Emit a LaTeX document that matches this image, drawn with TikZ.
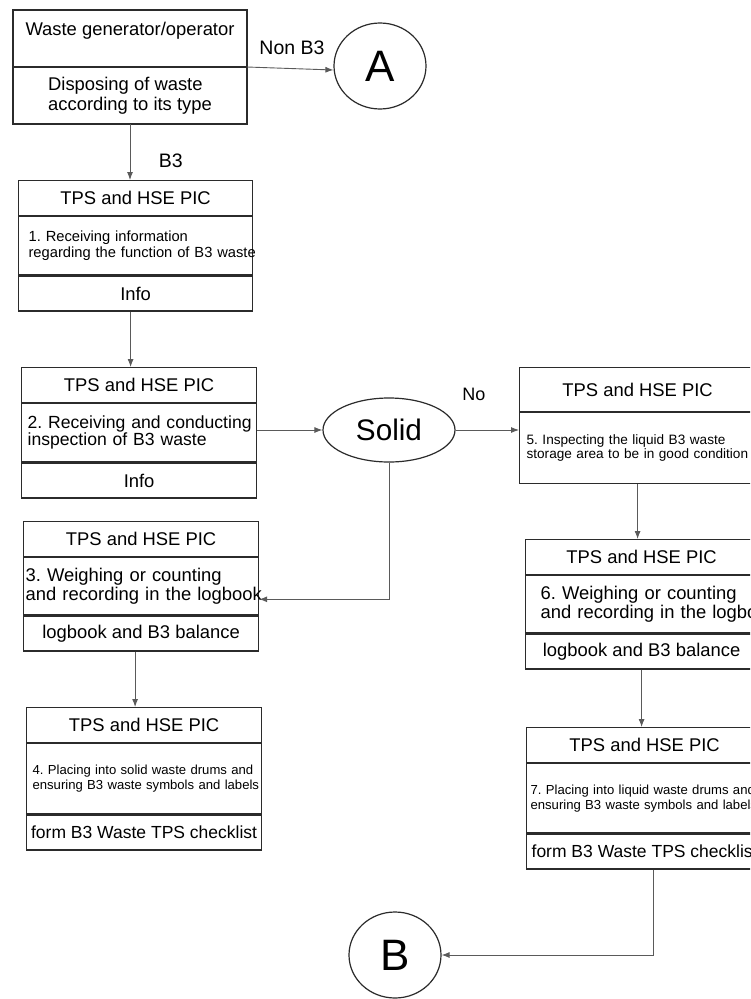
\documentclass[tikz,border=0pt]{standalone}
\usepackage{fontspec}
\setmainfont{Liberation Sans}
\frenchspacing
\usetikzlibrary{arrows, arrows.meta, positioning, shapes.geometric}
\definecolor{boxgray}{HTML}{2B2B2B}
\definecolor{linegray}{HTML}{5A5A5A}

\begin{document}
\begin{tikzpicture}[x=1pt, y=-1pt, >=latex']
 % We define the styles for the boxes, the connectors and the labels
 \tikzset{
block/.style = {draw=boxgray, line width=1.2pt, rectangle, inner xsep=3pt, inner ysep=0pt, minimum height=35pt, font=\fontsize{18.4}{20.5}\selectfont},
detail/.style = {block, align=left},
terminal/.style = {draw=boxgray, line width=1.2pt, ellipse, inner sep=0pt, minimum width=92pt, minimum height=86pt, font=\fontsize{44}{48}\selectfont},
line/.style = {draw=linegray, line width=0.9pt, -{Latex[length=8pt, width=6pt]}},
tag/.style = {font=\fontsize{19.5}{22}\selectfont},
}

 \useasboundingbox (0,0) rectangle (750,999);
 \fill [white] (0,0) rectangle (750,999);
 \clip (0,0) rectangle (750,999);

 % Waste generator block
 \node [block, anchor=north west, outer sep=0pt, minimum width=234pt, minimum height=57pt, text height=13pt, text depth=20pt] (gen) at (13,10) {Waste generator/operator};
 \node [detail, below=0pt of gen, outer sep=0pt, minimum width=234pt, minimum height=57pt] (dispose) {Disposing of waste\\according to its type};

 % Connector A for non B3 waste
 \node [terminal] (conA) at (380,66) {A};
 \node [tag] (nonB3) at (292,48) {Non B3};
 \draw [line] (gen.south east) -- ([yshift=-4pt]conA.west);

 % Step 1
 \node [block, anchor=north west, minimum width=234pt] (head1) at (18,180) {TPS and HSE PIC};
 \node [detail, below=0pt of head1, minimum width=234pt, minimum height=58pt, inner xsep=10pt, text width=214pt, font=\fontsize{14.7}{15.7}\selectfont] (body1) {\mbox{1. Receiving information}\\\mbox{regarding the function of B3 waste}};
 \node [block, below=0pt of body1, minimum width=234pt] (foot1) {Info};
 \draw [line] (dispose.south) -- (dispose.south |- head1.north) node [tag, pos=0.65, right=25pt] (b3) {B3};

 % Step 2
 \node [block, anchor=north west, minimum width=235pt] (head2) at (21,367) {TPS and HSE PIC};
 \node [detail, below=0pt of head2, minimum width=235pt, minimum height=58pt, inner xsep=6pt, text width=223pt, font=\fontsize{17.6}{17}\selectfont] (body2) {\mbox{2. Receiving and conducting}\\\mbox{inspection of B3 waste}};
 \node [block, below=0pt of body2, minimum width=235pt] (foot2) {Info};
 \draw [line] ([xshift=-5pt]foot1.south) -- ([xshift=-5pt]foot1.south |- head2.north);

 % Solid or liquid
 \node [draw=boxgray, ellipse, line width=1.2pt, inner sep=0pt, minimum width=132pt, minimum height=64pt, font=\fontsize{29.7}{32}\selectfont] (solid) at (389,430) {Solid};
 \draw [line] (solid.west -| body2.east) -- (solid.west);

 % Step 3
 \node [block, anchor=north west, minimum width=235pt] (head3) at (23,521) {TPS and HSE PIC};
 \node [detail, below=0pt of head3, minimum width=235pt, minimum height=57pt, inner xsep=2pt, text width=231pt, font=\fontsize{18.4}{19}\selectfont] (body3) {\mbox{3. Weighing or counting}\\\mbox{and recording in the logbook}};
 \node [block, below=0pt of body3, minimum width=235pt] (foot3) {logbook and B3 balance};
 \draw [line] (solid.south) |- ([yshift=-13pt]body3.east);

 % Step 4
 \node [block, anchor=north west, minimum width=235pt] (head4) at (26,707) {TPS and HSE PIC};
 \node [detail, below=0pt of head4, minimum width=235pt, minimum height=70pt, inner xsep=6pt, text width=223pt, font=\fontsize{13.1}{15}\selectfont] (body4) {\mbox{4. Placing into solid waste drums and}\\\mbox{ensuring B3 waste symbols and labels}};
 \node [block, below=0pt of body4, minimum width=235pt, font=\fontsize{17.5}{20}\selectfont] (foot4) {form B3 Waste TPS checklist};
 \draw [line] ([xshift=-6pt]foot3.south) -- ([xshift=-6pt]foot3.south |- head4.north);

 % Step 5
 \node [block, anchor=north west, minimum width=236pt, minimum height=44pt] (head5) at (519,367) {TPS and HSE PIC};
 \node [detail, below=0pt of head5, minimum width=236pt, minimum height=71pt, inner xsep=7pt, text width=222pt, font=\fontsize{13.6}{14.3}\selectfont] (body5) {\mbox{5. Inspecting the liquid B3 waste}\\\mbox{storage area to be in good condition}};
 \draw [line] (solid.east) -- (solid.east -| body5.west);
 \node [tag, font=\fontsize{18}{20}\selectfont] (no) at (474,394) {No};

 % Step 6
 \node [block, anchor=north west, minimum width=232pt] (head6) at (525,539) {TPS and HSE PIC};
 \node [detail, below=0pt of head6, minimum width=232pt, minimum height=57pt, inner xsep=15pt, text width=202pt, font=\fontsize{18.4}{19}\selectfont] (body6) {\mbox{6. Weighing or counting}\\\mbox{and recording in the logbook}};
 \node [block, below=0pt of body6, minimum width=232pt] (foot6) {logbook and B3 balance};
 \draw [line] (body5.south) -- (body5.south |- head6.north);

 % Step 7
 \node [block, anchor=north west, minimum width=236pt] (head7) at (526,727) {TPS and HSE PIC};
 \node [detail, below=0pt of head7, minimum width=236pt, minimum height=69pt, inner xsep=4pt, text width=228pt, font=\fontsize{13.1}{15}\selectfont] (body7) {\mbox{7. Placing into liquid waste drums and}\\\mbox{ensuring B3 waste symbols and labels}};
 \node [block, below=0pt of body7, minimum width=236pt, font=\fontsize{17.5}{20}\selectfont] (foot7) {form B3 Waste TPS checklist};
 \draw [line] (foot6.south) -- (foot6.south |- head7.north);

 % Connector B
 \node [terminal] (conB) at (395,955) {B};
 \draw [line] ([xshift=9pt]foot7.south) |- (conB.east);

\end{tikzpicture}
\end{document}
